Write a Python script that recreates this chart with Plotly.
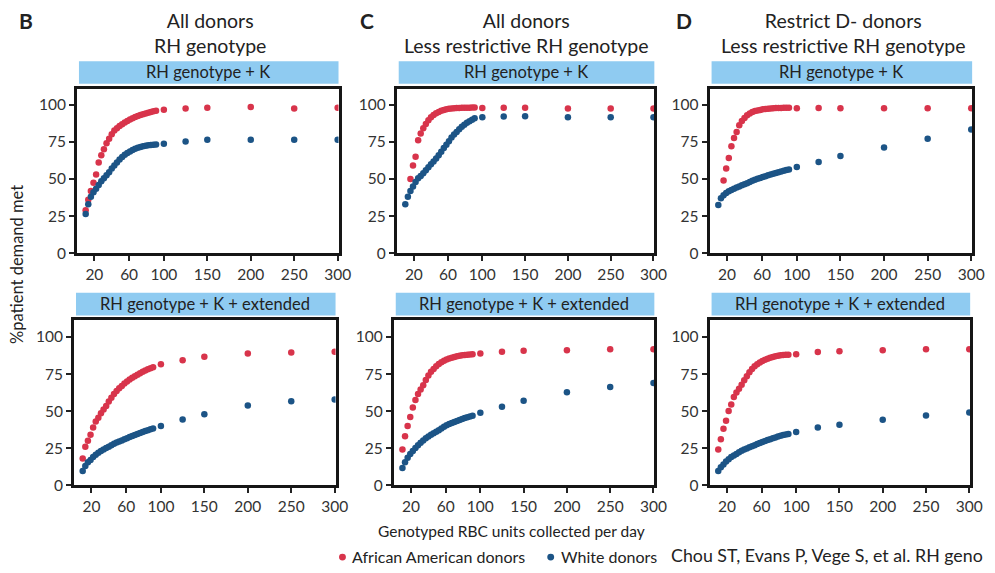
import plotly.graph_objects as go

# ---------------- data ----------------
units = [10, 13, 16, 19, 22, 25, 28, 31, 34, 37, 40, 43, 46, 49, 52, 55, 58, 61, 64, 67,
         70, 73, 76, 79, 82, 85, 88, 91, 100, 125, 150, 200, 250, 300]
x_ticks = [20, 60, 100, 150, 200, 250, 300]
y_ticks = [0, 25, 50, 75, 100]

column_titles = ["All donors<br>RH genotype",
                 "All donors<br>Less restrictive RH genotype",
                 "Restrict D- donors<br>Less restrictive RH genotype"]
column_letters = ["B", "C", "D"]
row_strips = ["RH genotype + K", "RH genotype + K + extended"]
series_names = ["African American donors", "White donors"]
source_note = "Chou ST, Evans P, Vege S, et al. RH geno"

b_top_aa = [29, 36, 42, 47.5, 53, 61, 66, 70, 74, 77, 80, 82.5, 84, 85.5, 86.8, 88, 89, 90, 90.8, 91.6,
            92.3, 92.9, 93.5, 94, 94.5, 95, 95.4, 95.8, 96.5, 97.3, 97.8, 98.3, 97.3, 97.8]
b_top_w = [26.5, 33, 38, 41, 43.5, 46, 48.5, 50.5, 52.5, 54.5, 57, 59, 61, 63, 64.8, 66.2, 67.5, 68.5, 69.5, 70.3,
           71, 71.5, 72, 72.3, 72.6, 72.8, 73, 73.2, 73.7, 75.2, 76.3, 76.3, 76.3, 76.3]
c_top_aa = [None, None, 50, 59, 65, 76, 80.5, 84, 87, 89.5, 91.5, 93, 94.2, 95, 95.8, 96.4, 96.8, 97.1, 97.3, 97.5,
            97.6, 97.7, 97.8, 97.8, 97.9, 97.9, 98, 98, 97.7, 97.9, 97.9, 97.3, 97.3, 97.3]
c_top_w = [33, 38, 42, 45, 48, 50.5, 52, 53.8, 55.8, 57.8, 59.8, 61.8, 63.8, 66, 68.3, 70.8, 73, 75.3, 77.8, 79.8,
           81.6, 83.4, 85, 86.4, 87.7, 88.8, 89.8, 90.7, 91.5, 92, 92.2, 91.5, 91.5, 91.5]
d_top_aa = [None, None, 49, 57, 64, 72, 77.5, 81.5, 86, 89, 91, 92.8, 94, 95, 95.6, 96, 96.4, 96.8, 97, 97.2,
            97.4, 97.5, 97.6, 97.7, 97.7, 97.8, 97.8, 97.8, 97.5, 97.7, 97.5, 97.5, 97.5, 97.5]
d_top_w = [32.5, 37, 39, 40.5, 41.7, 42.6, 43.5, 44.2, 45, 45.8, 46.5, 47.2, 48, 48.8, 49.5, 50.1, 50.7, 51.3, 51.9, 52.5,
           53, 53.5, 54, 54.5, 55, 55.5, 56, 56.4, 58, 61.4, 65.4, 71.2, 77, 83.3]
b_bot_aa = [18, 26, 30, 34, 39, 43, 45.5, 48.5, 51, 53.5, 56.5, 59, 61.5, 63.5, 65.5, 67, 68.7, 70, 71.3, 72.5,
            73.5, 74.5, 75.5, 76.5, 77.4, 78.2, 79, 79.6, 81.6, 84.4, 86.7, 88.9, 89.6, 90]
b_bot_w = [9.5, 13, 15.5, 17, 19, 20.5, 21.8, 23, 24, 25, 26, 27, 28, 28.8, 29.5, 30.2, 31, 31.7, 32.5, 33.2,
           33.8, 34.5, 35.2, 35.8, 36.5, 37, 37.7, 38.3, 40, 44.4, 47.8, 53.8, 56.7, 57.8]
c_bot_aa = [24, 33, 40, 46, 52.5, 57.5, 61.5, 64.5, 67.5, 71, 74, 76.5, 78.5, 80.3, 81.8, 83, 84, 84.8, 85.5, 86.1,
            86.6, 87, 87.4, 87.7, 87.9, 88.1, 88.2, 88.3, 88.9, 90, 90.7, 91.1, 91.8, 91.8]
c_bot_w = [11.5, 15.5, 18.5, 21, 23, 25, 27, 28.7, 30.2, 31.6, 32.8, 34, 35, 36, 37, 38.2, 39.4, 40.4, 41.3, 42,
           42.7, 43.3, 44, 44.7, 45.3, 45.9, 46.4, 46.9, 48.9, 52.9, 57, 62.7, 66.2, 68.9]
d_bot_aa = [24, 31, 38, 43.5, 50, 54.5, 59.5, 62.5, 65, 67.8, 70.8, 73.5, 76.3, 78.5, 80.3, 81.7, 82.8, 83.8, 84.7, 85.4,
            86, 86.6, 87, 87.4, 87.7, 87.9, 88, 88.1, 88.4, 89.9, 90.4, 91.1, 91.7, 91.7]
d_bot_w = [9.5, 12, 14, 16, 17.5, 19, 20, 21, 22.2, 23.2, 24, 24.8, 25.6, 26.3, 27, 27.7, 28.4, 29.1, 29.8, 30.5,
           31, 31.6, 32.2, 32.8, 33.3, 33.8, 34.2, 34.6, 35.8, 38.9, 40.7, 44.1, 47, 49]

# ---------------- styling / layout ----------------
W, H = 995, 573
FONT = "Lato"
RED = "#d8344b"
BLUE = "#1c5486"
TXT = "#222222"

panels = [  # (row, col, aa, white)
    (0, 0, b_top_aa, b_top_w), (0, 1, c_top_aa, c_top_w), (0, 2, d_top_aa, d_top_w),
    (1, 0, b_bot_aa, b_bot_w), (1, 1, c_bot_aa, c_bot_w), (1, 2, d_bot_aa, d_bot_w),
]
# pixel frames of each plot area: (left, right, top, bottom)
frames = {
    (0, 0): (78, 343, 90, 257), (0, 1): (402, 663, 90, 257), (0, 2): (719, 985, 90, 257),
    (1, 0): (75, 340, 325, 492), (1, 1): (399, 663, 325, 492), (1, 2): (719, 983, 325, 492),
}
yranges = {0: [0, 110.6], 1: [0, 111.2]}


def px(x):
    return x / W


def py(y):
    return 1 - y / H


fig = go.Figure()
layout = dict(
    width=W, height=H, autosize=False,
    margin=dict(l=0, r=0, t=0, b=0),
    paper_bgcolor="white", plot_bgcolor="white",
    font=dict(family=FONT, color=TXT, size=15),
    showlegend=False,
)
shapes = []
annotations = []

for i, (r, c, aa, wh) in enumerate(panels):
    k = "" if i == 0 else str(i + 1)
    L, R, T, B = frames[(r, c)]
    layout["xaxis" + k] = dict(
        domain=[px(L), px(R)], anchor="y" + k, range=[0, 301],
        tickvals=x_ticks, ticks="outside", ticklen=5, tickwidth=1.5, tickcolor="#222",
        showline=True, mirror=True, linewidth=2.8, linecolor="#161616",
        showgrid=False, zeroline=False, tickfont=dict(size=15.5, color="#333"),
    )
    layout["yaxis" + k] = dict(
        domain=[py(B), py(T)], anchor="x" + k, range=yranges[r],
        tickvals=y_ticks, ticks="outside", ticklen=5, tickwidth=1.5, tickcolor="#222",
        showline=True, mirror=True, linewidth=2.8, linecolor="#161616",
        showgrid=False, zeroline=False, tickfont=dict(size=15.5, color="#333"),
    )
    for name, vals, col in ((series_names[0], aa, RED), (series_names[1], wh, BLUE)):
        fig.add_trace(go.Scatter(
            x=units, y=vals, mode="markers", name=name,
            marker=dict(color=col, size=6.5, line=dict(width=0)),
            xaxis="x" + k, yaxis="y" + k, cliponaxis=True,
        ))
    # strip header
    st_top = T - 28
    st_bot = T - 5
    shapes.append(dict(type="rect", xref="paper", yref="paper",
                       x0=px(L + 2), x1=px(R), y0=py(st_bot), y1=py(st_top),
                       fillcolor="#8fcbf1", line=dict(width=0), layer="below"))
    annotations.append(dict(text=row_strips[r], xref="paper", yref="paper",
                            x=px((L + R) / 2), y=py((st_top + st_bot) / 2),
                            xanchor="center", yanchor="middle", showarrow=False,
                            font=dict(size=16.5, color=TXT)))

# column titles and letters
title_cx = [213, 533, 855]
letter_x = [26, 372, 693]
for c in range(3):
    annotations.append(dict(text=column_titles[c], xref="paper", yref="paper",
                            x=px(title_cx[c]), y=py(33), xanchor="center", yanchor="middle",
                            showarrow=False, font=dict(size=19.5, color=TXT)))
    annotations.append(dict(text="<b>" + column_letters[c] + "</b>", xref="paper", yref="paper",
                            x=px(letter_x[c]), y=py(21), xanchor="center", yanchor="middle",
                            showarrow=False, font=dict(size=21, color=TXT)))

# axis titles
annotations.append(dict(text="%patient demand met", xref="paper", yref="paper",
                        x=px(17), y=py(268), xanchor="center", yanchor="middle", textangle=-90,
                        showarrow=False, font=dict(size=16.5, color=TXT)))
annotations.append(dict(text="Genotyped RBC units collected per day", xref="paper", yref="paper",
                        x=px(518), y=py(539), xanchor="center", yanchor="middle",
                        showarrow=False, font=dict(size=15.5, color=TXT)))

# legend (drawn manually for tight spacing like the reference)
legend_items = [(347, 355, RED, series_names[0]), (558, 566, BLUE, series_names[1])]
for dot_x, text_x, col, label in legend_items:
    shapes.append(dict(type="circle", xref="paper", yref="paper",
                       x0=px(dot_x - 3.5), x1=px(dot_x + 3.5), y0=py(565 + 3.5), y1=py(565 - 3.5),
                       fillcolor=col, line=dict(width=0)))
    annotations.append(dict(text=label, xref="paper", yref="paper",
                            x=px(text_x), y=py(564), xanchor="left", yanchor="middle",
                            showarrow=False, font=dict(size=16, color=TXT)))

# source note
annotations.append(dict(text=source_note, xref="paper", yref="paper",
                        x=px(678), y=py(563), xanchor="left", yanchor="middle",
                        showarrow=False, font=dict(size=17.8, color=TXT)))

layout["shapes"] = shapes
layout["annotations"] = annotations
fig.update_layout(**layout)
fig.write_html("out.html")
